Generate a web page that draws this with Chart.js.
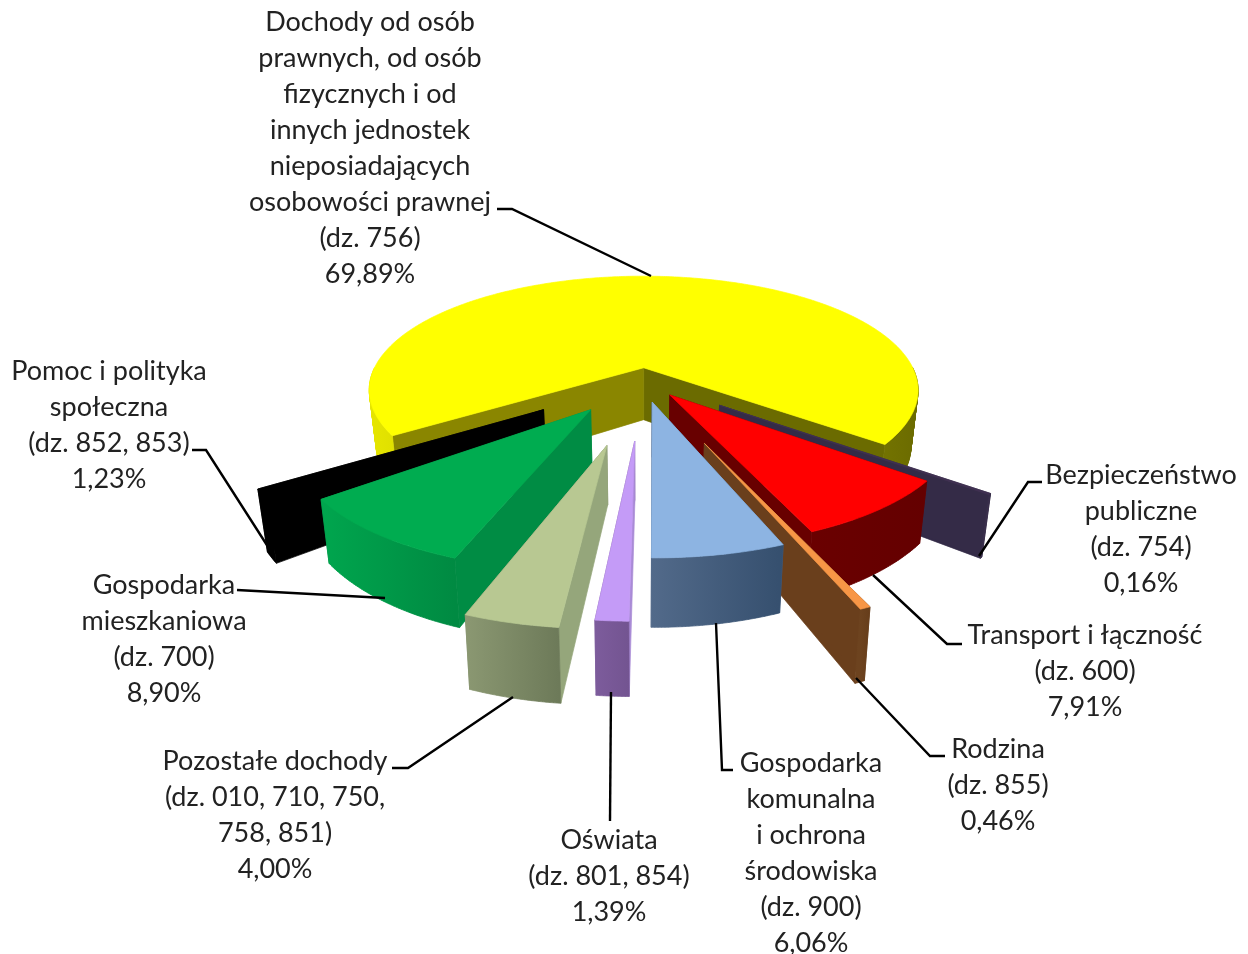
<!DOCTYPE html>
<html lang="pl">
<head>
<meta charset="utf-8">
<title>Struktura dochodów</title>
<script src="https://cdn.jsdelivr.net/npm/chart.js@4"></script>
<style>
    html, body { margin: 0; padding: 0; background: #fff; }
    #box { position: relative; width: 1248px; height: 954px; }
</style>
</head>
<body>
<div id="box"><canvas id="wykres" width="1248" height="954"></canvas></div>
<script>
// dane
const categories = [
    'Dochody od osób prawnych, od osób fizycznych i od innych jednostek nieposiadających osobowości prawnej',
    'Bezpieczeństwo publiczne',
    'Transport i łączność',
    'Rodzina',
    'Gospodarka komunalna i ochrona środowiska',
    'Oświata',
    'Pozostałe dochody',
    'Gospodarka mieszkaniowa',
    'Pomoc i polityka społeczna'
];
const values = [69.89, 0.16, 7.91, 0.46, 6.06, 1.39, 4.00, 8.90, 1.23];
const labelLines = [
    ['Dochody od osób', 'prawnych, od osób', 'fizycznych i od', 'innych jednostek', 'nieposiadających', 'osobowości prawnej', '(dz. 756)'],
    ['Bezpieczeństwo', 'publiczne', '(dz. 754)'],
    ['Transport i łączność', '(dz. 600)'],
    ['Rodzina', '(dz. 855)'],
    ['Gospodarka', 'komunalna', 'i ochrona', 'środowiska', '(dz. 900)'],
    ['Oświata', '(dz. 801, 854)'],
    ['Pozostałe dochody', '(dz. 010, 710, 750,', '758, 851)'],
    ['Gospodarka', 'mieszkaniowa', '(dz. 700)'],
    ['Pomoc i polityka', 'społeczna', '(dz. 852, 853)']
];

// wyglad wycinkow
const explode = [30, 94, 44, 148, 52, 133, 145, 84, 116];
const topColors = ['#ffff00', '#403152', '#ff0000', '#f79646', '#8db4e2', '#c49bf7', '#b8c892', '#00ac50', '#000000'];
const outerFrom = ['#e6e600', '#3a2f4c', '#6a0000', '#6d431f', '#526a8a', '#7d5c9c', '#8b9872', '#00a64e', '#000000'];
const outerTo = ['#6b6b00', '#302842', '#640000', '#663d1a', '#354f6e', '#735491', '#6d7a59', '#008a42', '#000000'];
const startWall = ['#8a8600', '#342b47', '#680000', '#6a3f1c', '#4a6284', '#a98bd6', '#95a67b', '#008c44', '#000000'];
const endWall = ['#6b6b00', '#342b47', '#680000', '#6a3f1c', '#4a6284', '#7d5c9c', '#7b8864', '#008c44', '#000000'];

// rzut 3D
const PERSP = 0.2;
const SQUASH = 0.416;
const DEPTH = 53;
const TAPER = 0.975;

// polozenie opisow i linii odniesienia
const labelBoxes = [
    { x: 370, y: 22, line: [[497, 209], [512, 209], [651, 276]] },
    { x: 1141, y: 475, line: [[1042, 482], [1028, 482], [979, 556]] },
    { x: 1085, y: 635, line: [[962, 644], [947, 644], [873, 575]] },
    { x: 998, y: 749, line: [[945, 756], [930, 756], [856, 678]] },
    { x: 811, y: 763, line: [[733, 770], [722, 770], [716, 623]] },
    { x: 609, y: 840, line: [[610, 821], [611, 692]] },
    { x: 275, y: 761, line: [[392, 768], [408, 768], [513, 697]] },
    { x: 164, y: 585, line: [[237, 590], [385, 598]] },
    { x: 109, y: 371, line: [[192, 450], [206, 450], [272, 553]] }
];
const LINE_H = 36;

function tracePoly(ctx, pts) {
    pts.forEach((p, i) => i ? ctx.lineTo(p.x, p.y) : ctx.moveTo(p.x, p.y));
    ctx.closePath();
}

function paint(ctx, color) {
    ctx.fillStyle = color;
    ctx.strokeStyle = color;
    ctx.lineWidth = 0.7;
    ctx.fill();
    ctx.stroke();
}

function fillPoly(ctx, pts, color) {
    ctx.beginPath();
    tracePoly(ctx, pts);
    paint(ctx, color);
}

function signedArea(pts) {
    let sum = 0;
    pts.forEach((p, i) => {
        const q = pts[(i + 1) % pts.length];
        sum += p.x * q.y - q.x * p.y;
    });
    return sum;
}

function drawSlice(ctx, s) {
    const project = (u, v, bottom) => {
        const k = 1 / (1 - PERSP * v);
        let x = s.cx + s.R * u * k;
        let y = s.cy + s.R * SQUASH * v * k;
        if (bottom) {
            x = s.cx + (x - s.cx) * TAPER;
            y += DEPTH * k;
        }
        return { x: x, y: y };
    };
    const edge = (a, bottom) => project(s.ou + Math.cos(a), s.ov + Math.sin(a), bottom);
    const steps = Math.max(2, Math.ceil((s.end - s.start) / 0.01));
    const angles = [];
    for (let i = 0; i <= steps; i++) {
        angles.push(s.start + (s.end - s.start) * i / steps);
    }

    // sciany boczne
    const apexTop = project(s.ou, s.ov, false);
    const apexBottom = project(s.ou, s.ov, true);
    fillPoly(ctx, [apexTop, edge(s.end, false), edge(s.end, true), apexBottom], s.endWall);
    fillPoly(ctx, [apexTop, edge(s.start, false), edge(s.start, true), apexBottom], s.startWall);

    // sciana zewnetrzna, tylko kawalki od strony patrzacego, jedna sciezka zeby nie bylo smug
    const xs = angles.map(a => edge(a, false).x);
    const grad = ctx.createLinearGradient(Math.min(...xs), 0, Math.max(...xs) + 0.01, 0);
    grad.addColorStop(0, s.from);
    grad.addColorStop(1, s.to);
    ctx.beginPath();
    angles.slice(0, -1).forEach((a, i) => {
        const b = angles[i + 1];
        if (Math.sin(a) > 0 || Math.sin(b) > 0) {
            const quad = [edge(a, false), edge(b, false), edge(b, true), edge(a, true)];
            tracePoly(ctx, signedArea(quad) < 0 ? quad.reverse() : quad);
        }
    });
    paint(ctx, grad);

    // wierzch
    fillPoly(ctx, [apexTop].concat(angles.map(a => edge(a, false))), s.top);
}

const pie3d = {
    id: 'pie3d',
    beforeDatasetDraw(chart, args) {
        const ctx = chart.ctx;
        const meta = chart.getDatasetMeta(args.index);
        const slices = meta.data.map((arc, i) => {
            const p = arc.getProps(['x', 'y', 'startAngle', 'endAngle', 'outerRadius']);
            const mid = (p.startAngle + p.endAngle) / 2;
            const e = arc.options.offset / p.outerRadius;
            return {
                cx: p.x, cy: p.y, R: p.outerRadius,
                start: p.startAngle, end: p.endAngle,
                ou: e * Math.cos(mid), ov: e * Math.sin(mid),
                depth: Math.sin(mid),
                top: arc.options.backgroundColor,
                from: outerFrom[i], to: outerTo[i],
                startWall: startWall[i], endWall: endWall[i]
            };
        });
        // od tylu do przodu
        slices.sort((a, b) => a.depth - b.depth).forEach(s => drawSlice(ctx, s));
        return false;
    },
    afterDatasetsDraw(chart) {
        const ctx = chart.ctx;
        ctx.save();
        ctx.font = '27px Lato';
        ctx.textAlign = 'center';
        ctx.textBaseline = 'middle';
        ctx.fillStyle = '#222';
        labelBoxes.forEach((box, i) => {
            const lines = labelLines[i].concat(values[i].toFixed(2).replace('.', ',') + '%');
            lines.forEach((txt, n) => ctx.fillText(txt, box.x, box.y + n * LINE_H));
            ctx.beginPath();
            box.line.forEach((p, n) => n ? ctx.lineTo(p[0], p[1]) : ctx.moveTo(p[0], p[1]));
            ctx.strokeStyle = '#000';
            ctx.lineWidth = 2.4;
            ctx.stroke();
        });
        ctx.restore();
    }
};

new Chart(document.getElementById('wykres'), {
    type: 'pie',
    data: {
        labels: categories,
        datasets: [{
            data: values,
            backgroundColor: topColors,
            borderWidth: 0,
            offset: explode
        }]
    },
    options: {
        responsive: false,
        animation: false,
        rotation: 236.4,
        radius: 275,
        layout: { padding: { left: 37, bottom: 194 } },
        plugins: { legend: { display: false }, tooltip: { enabled: false } }
    },
    plugins: [pie3d]
});
</script>
</body>
</html>
